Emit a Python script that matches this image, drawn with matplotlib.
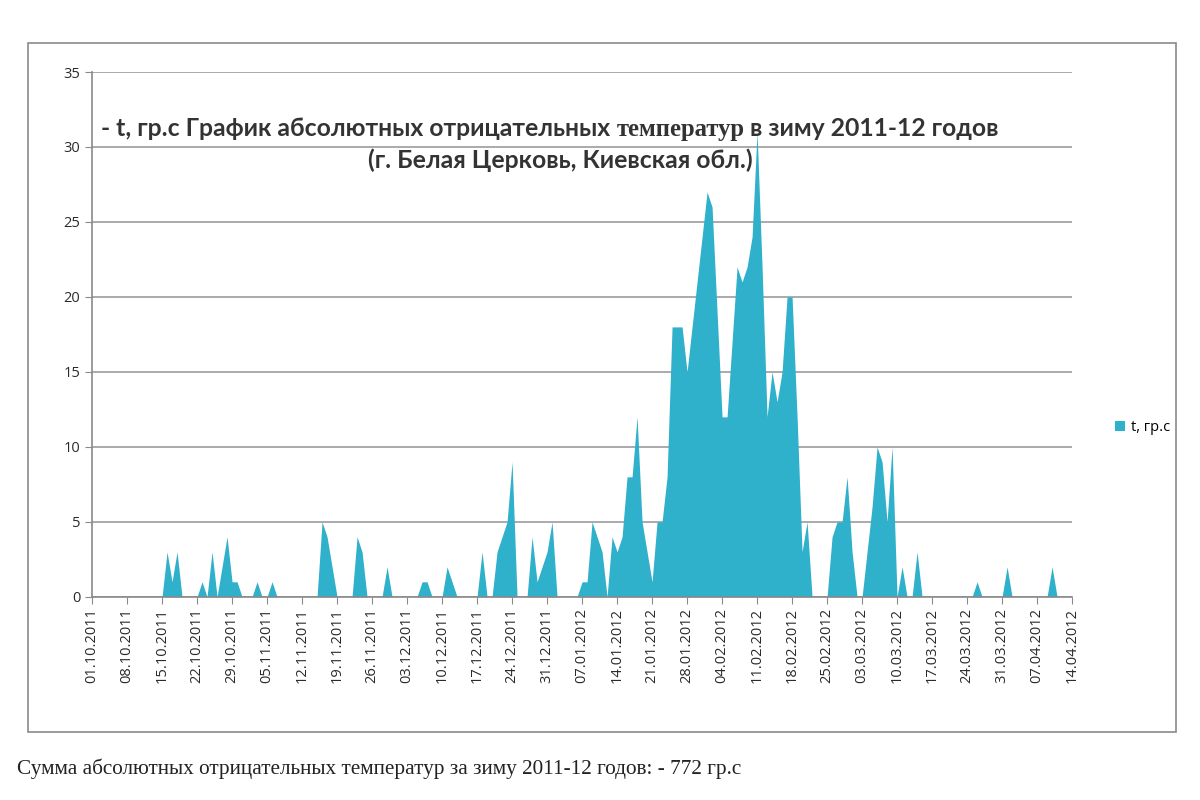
import matplotlib
matplotlib.use("Agg")
import matplotlib.pyplot as plt
import pandas as pd
from matplotlib.patches import Rectangle

# daily absolute negative temperatures, from 01.10.2011
start_date = "2011-10-01"
end_date = "2012-04-14"
temps = [
    0, 0, 0, 0, 0, 0, 0,
    0, 0, 0, 0, 0, 0, 0,
    0, 3, 1, 3, 0, 0, 0,
    0, 1, 0, 3, 0, 2, 4,
    1, 1, 0, 0, 0, 1, 0,
    0, 1, 0, 0, 0, 0, 0,
    0, 0, 0, 0, 5, 4, 2,
    0, 0, 0, 0, 4, 3, 0,
    0, 0, 0, 2, 0, 0, 0,
    0, 0, 0, 1, 1, 0, 0,
    0, 2, 1, 0, 0, 0, 0,
    0, 3, 0, 0, 3, 4, 5,
    9, 0, 0, 0, 4, 1, 2,
    3, 5, 0, 0, 0, 0, 0,
    1, 1, 5, 4, 3, 0, 4,
    3, 4, 8, 8, 12, 5, 3,
    1, 5, 5, 8, 18, 18, 18,
    15, 18, 21, 24, 27, 26, 19,
    12, 12, 17, 22, 21, 22, 24,
    31, 22, 12, 15, 13, 15, 20,
    20, 12, 3, 5, 0, 0, 0,
    0, 4, 5, 5, 8, 3, 0,
    0, 3, 6, 10, 9, 5, 10,
    0, 2, 0, 0, 3, 0, 0,
    0, 0, 0, 0, 0, 0, 0,
    0, 0, 1, 0, 0, 0, 0,
    0, 2, 0, 0, 0, 0, 0,
    0, 0, 0, 2, 0, 0, 0,
    0,
]
series_name = "t, гр.с"
title_parts = ["- t, гр.с График абсолютных отрицательных ", "температур", " в зиму 2011-12 годов"]
title_line2 = "(г. Белая Церковь, Киевская обл.)"
footer = "Сумма абсолютных отрицательных температур за зиму 2011-12 годов: - 772 гр.с"

dates = pd.date_range(start_date, periods=len(temps), freq="D")
week_ticks = pd.date_range(start_date, end_date, freq="7D")

fig = plt.figure(figsize=(12, 8), dpi=100)
ax = fig.add_axes([0.0767, 0.254, 0.8167, 0.656])

ax.fill_between(dates, temps, 0, color="#2fb0cb", linewidth=0, label=series_name)

ax.set_xlim(dates[0], pd.Timestamp(end_date))
ax.set_ylim(0, 35)
ax.set_yticks(range(0, 36, 5))
ax.set_xticks(week_ticks)
ax.set_xticklabels([d.strftime("%d.%m.%Y") for d in week_ticks], rotation=90)

ax.yaxis.grid(True, color="#a3a3a8", linewidth=1.3)
ax.set_axisbelow(True)
for s in ["top", "right"]:
    ax.spines[s].set_visible(False)
for s in ["left", "bottom"]:
    ax.spines[s].set_color("#8a8a8a")
    ax.spines[s].set_linewidth(1.2)
ax.tick_params(direction="out", length=5, color="#8a8a8a", labelsize=10.5,
               labelcolor="#2a2a2a")
ax.tick_params(axis="x", pad=3)
for lab in ax.get_xticklabels() + ax.get_yticklabels():
    lab.set_family("Open Sans")

leg = ax.legend(loc="center left", bbox_to_anchor=(1.03, 0.322), frameon=False,
                handlelength=0.7, handleheight=0.7, handletextpad=0.4,
                prop={"family": "Open Sans", "size": 10.5})

# outer frame of the chart
fig.patches.append(Rectangle((0.0233, 0.085), 0.9567, 0.861, transform=fig.transFigure,
                             fill=False, edgecolor="#8a8a8a", linewidth=1.2))

# title, mixed fonts like the original
fig.canvas.draw()
r = fig.canvas.get_renderer()
fams = ["Lato", "Liberation Serif", "Lato"]
texts = []
total = 0
for s, fam in zip(title_parts, fams):
    t = fig.text(0, 0, s, family=fam, fontweight="bold", fontsize=17.8,
                 color="#333333", va="baseline", ha="left")
    w = t.get_window_extent(r).width
    texts.append((t, w))
    total += w
x_px = 550 - total / 2
for t, w in texts:
    t.set_position((x_px / 1200, 1 - 136 / 800))
    x_px += w
fig.text(560 / 1200, 1 - 168 / 800, title_line2, family="Lato", fontweight="bold",
         fontsize=17.8, color="#333333", va="baseline", ha="center")

fig.text(17 / 1200, 1 - 774 / 800, footer, family="Liberation Serif", fontsize=15.3,
         color="#222222", va="baseline")

fig.savefig("out.png", dpi=100)
